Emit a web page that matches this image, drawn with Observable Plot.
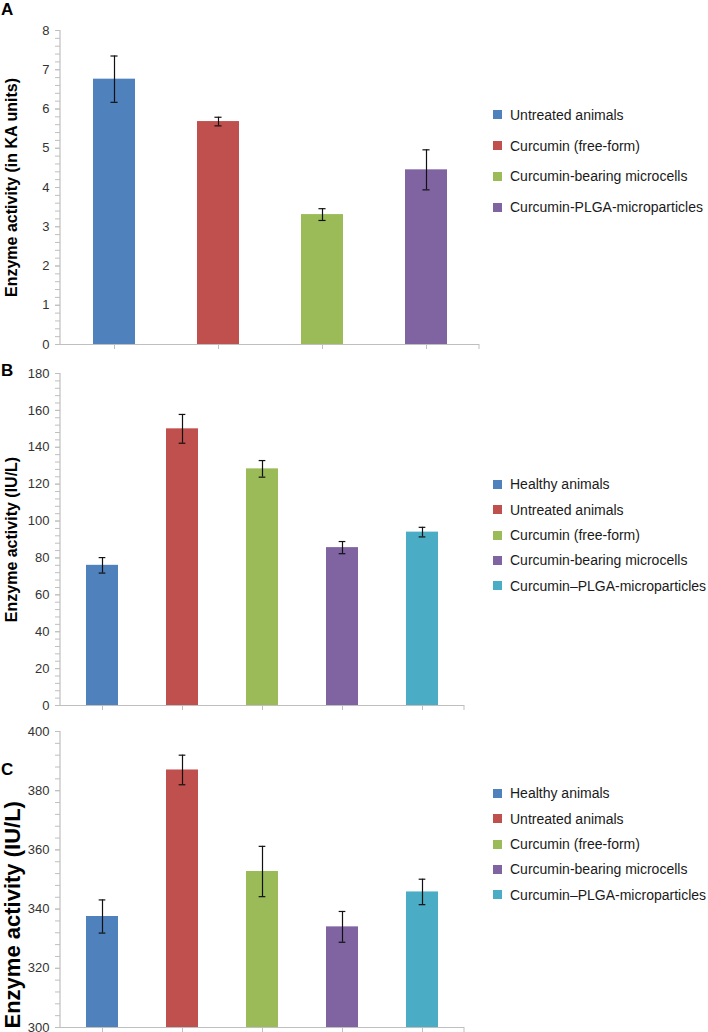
<!DOCTYPE html>
<html>
<head>
<meta charset="utf-8">
<script src="https://cdn.jsdelivr.net/npm/d3@7"></script>
<script src="https://cdn.jsdelivr.net/npm/@observablehq/plot@0.6"></script>
<style>
  body { margin: 0; background: #fff; font-family: "Liberation Sans", Arial, sans-serif; }
  #root { position: relative; width: 708px; height: 1032px; overflow: hidden; background: #fff; }
  .panel { position: absolute; left: 0; z-index: 1; }
  .panel svg { display: block; }
  .letter { position: absolute; left: 1px; font-weight: bold; font-size: 17px; line-height: 17px; color: #000; z-index: 3; }
  .legend { position: absolute; left: 493px; font-size: 14px; color: #1a1a1a; z-index: 2; }
  .legend .row { display: flex; align-items: center; white-space: nowrap; }
  .legend .sw { width: 9px; height: 9px; margin-right: 8px; flex: none; }
</style>
</head>
<body>
<div id="root"></div>
<script>
// ---------- Data ----------
const groupsA = ["Untreated animals", "Curcumin (free-form)", "Curcumin-bearing microcells", "Curcumin-PLGA-microparticles"];
const meansA  = [6.76, 5.68, 3.31, 4.45];
const errorsA = [0.59, 0.11, 0.15, 0.51];
const colorsA = ["#4f81bd", "#c0504d", "#9bbb59", "#8064a2"];

const groupsBC = ["Healthy animals", "Untreated animals", "Curcumin (free-form)", "Curcumin-bearing microcells", "Curcumin–PLGA-microparticles"];
const colorsBC = ["#4f81bd", "#c0504d", "#9bbb59", "#8064a2", "#4bacc6"];
const meansB  = [76.0, 150.0, 128.3, 85.6, 94.0];
const errorsB = [4.2, 7.8, 4.5, 3.3, 2.6];
const meansC  = [337.5, 387.0, 352.7, 334.0, 345.8];
const errorsC = [5.6, 5.0, 8.5, 5.2, 4.3];

const ticksA = [0, 1, 2, 3, 4, 5, 6, 7, 8];
const ticksB = [0, 20, 40, 60, 80, 100, 120, 140, 160, 180];
const ticksC = [300, 320, 340, 360, 380, 400];

const labelA = "Enzyme activity (in KA units)";
const labelB = "Enzyme activity (IU/L)";
const labelC = "Enzyme activity (IU/L)";

// ---------- Panels ----------
const root = document.getElementById("root");
const AXIS = "#bfbfbf";

function panel(cfg) {
  const data = cfg.groups.map((g, i) => ({group: g, mean: cfg.means[i], err: cfg.errors[i]}));
  const lo = cfg.ticks[0], hi = cfg.ticks[cfg.ticks.length - 1];
  const minor = d3.range(0, Math.round((hi - lo) / cfg.minorStep) + 1).map(i => +(lo + i * cfg.minorStep).toFixed(6));
  const width = 708, marginLeft = 60;
  const step = (width - marginLeft - cfg.marginRight) / cfg.groups.length;
  const inset = (step * 0.4 - 7) / 2;

  const plot = Plot.plot({
    width, height: cfg.height,
    marginLeft, marginRight: cfg.marginRight, marginTop: cfg.marginTop, marginBottom: cfg.marginBottom,
    style: {fontFamily: "'Liberation Sans', Arial, sans-serif", fontSize: "13px", color: "#333", background: "transparent", overflow: "visible"},
    x: {domain: cfg.groups, paddingInner: 0.6, paddingOuter: 0.3},
    y: {domain: [lo, hi]},
    color: {domain: cfg.groups, range: cfg.colors},
    marks: [
      Plot.barY(data, {x: "group", y1: () => lo, y2: "mean", fill: "group"}),
      Plot.ruleX(data, {x: "group", y1: d => d.mean - d.err, y2: d => d.mean + d.err, stroke: "#111", strokeWidth: 1.2}),
      Plot.tickY(data, {x: "group", y: d => d.mean + d.err, stroke: "#111", strokeWidth: 1.2, insetLeft: inset, insetRight: inset}),
      Plot.tickY(data, {x: "group", y: d => d.mean - d.err, stroke: "#111", strokeWidth: 1.2, insetLeft: inset, insetRight: inset}),
      Plot.ruleY([lo], {stroke: AXIS, strokeWidth: 1.2}),
      Plot.axisY({ticks: minor, tickSize: 5, fill: "none", stroke: AXIS, label: null}),
      Plot.axisY({ticks: cfg.ticks, tickSize: 5, tickPadding: 6, stroke: AXIS, fill: "#333", fontSize: 13, tickFormat: d => String(d), label: null}),
      Plot.axisX({tickSize: 5, fill: "none", stroke: AXIS, label: null}),
      Plot.text([cfg.label], {frameAnchor: cfg.labelFrame, textAnchor: cfg.labelTextAnchor, lineAnchor: "middle", rotate: -90, dx: cfg.labelDx, dy: cfg.labelDy, fontWeight: "bold", fontSize: cfg.labelSize, fill: "#000", text: d => d})
    ]
  });

  // y axis line and right-end category tick, from the library's scales
  const [x0, x1] = plot.scale("x").range;
  const [yb, yt] = plot.scale("y").range;
  const svg = d3.select(plot);
  svg.append("line").attr("x1", x0).attr("x2", x0).attr("y1", yt).attr("y2", yb + 0.5)
    .attr("stroke", AXIS).attr("stroke-width", 1.2);
  svg.append("line").attr("x1", x1).attr("x2", x1).attr("y1", yb).attr("y2", yb + 5)
    .attr("stroke", AXIS).attr("stroke-width", 1);

  const div = document.createElement("div");
  div.className = "panel";
  div.style.top = cfg.top + "px";
  div.appendChild(plot);
  root.appendChild(div);

  const letter = document.createElement("div");
  letter.className = "letter";
  letter.style.top = cfg.letterTop + "px";
  letter.textContent = cfg.letter;
  root.appendChild(letter);

  const legend = document.createElement("div");
  legend.className = "legend";
  legend.style.top = (cfg.legendFirst - cfg.legendStep / 2) + "px";
  cfg.groups.forEach((g, i) => {
    const row = document.createElement("div");
    row.className = "row";
    row.style.height = cfg.legendStep + "px";
    const sw = document.createElement("span");
    sw.className = "sw";
    sw.style.background = cfg.colors[i];
    const t = document.createElement("span");
    t.textContent = g;
    row.appendChild(sw); row.appendChild(t);
    legend.appendChild(row);
  });
  root.appendChild(legend);
}

panel({top: 0, height: 352, marginTop: 30, marginBottom: 8, marginRight: 229,
  groups: groupsA, means: meansA, errors: errorsA, colors: colorsA, ticks: ticksA, minorStep: 0.2,
  label: labelA, labelSize: 16, labelFrame: "left", labelTextAnchor: "middle", labelDx: -49, labelDy: 0,
  letter: "A", letterTop: 1, legendFirst: 115, legendStep: 30.7});

panel({top: 352, height: 361, marginTop: 21, marginBottom: 8, marginRight: 244,
  groups: groupsBC, means: meansB, errors: errorsB, colors: colorsBC, ticks: ticksB, minorStep: 4,
  label: labelB, labelSize: 16, labelFrame: "left", labelTextAnchor: "middle", labelDx: -49, labelDy: 0,
  letter: "B", letterTop: 362, legendFirst: 484.3, legendStep: 25.4});

panel({top: 713, height: 319, marginTop: 18, marginBottom: 5, marginRight: 244,
  groups: groupsBC, means: meansC, errors: errorsC, colors: colorsBC, ticks: ticksC, minorStep: 4,
  label: labelC, labelSize: 22, labelFrame: "bottom-left", labelTextAnchor: "start", labelDx: -47.5, labelDy: 1,
  letter: "C", letterTop: 761, legendFirst: 793.3, legendStep: 25.4});
</script>
</body>
</html>
